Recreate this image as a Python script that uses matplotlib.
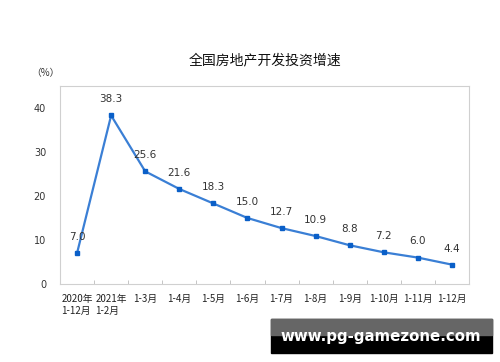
import matplotlib
matplotlib.use("Agg")
import matplotlib.pyplot as plt
from matplotlib.patches import Rectangle

plt.rcParams['font.family'] = ['Noto Sans CJK SC', 'DejaVu Sans']

categories = ["2020年\n1-12月", "2021年\n1-2月", "1-3月", "1-4月", "1-5月", "1-6月",
              "1-7月", "1-8月", "1-9月", "1-10月", "1-11月", "1-12月"]
values = [7.0, 38.3, 25.6, 21.6, 18.3, 15.0, 12.7, 10.9, 8.8, 7.2, 6.0, 4.4]
yticks = [0, 10, 20, 30, 40]

fig = plt.figure(figsize=(5.0, 3.62), dpi=100)
ax = fig.add_axes([60/500, 1-284/362, 409/500, (284-86)/362])

x = list(range(len(values)))
ax.plot(x, values, color='#3a7fd5', lw=1.6, marker='s', ms=3.2,
        mfc='#0a5fc8', mec='#0a5fc8', zorder=3)
for xi, v in zip(x, values):
    ax.annotate(f"{v:.1f}", (xi, v), xytext=(0, 8), textcoords='offset points',
                ha='center', va='bottom', fontsize=7.5, color='#333333',
                family=['DejaVu Sans'])

ax.set_xlim(-0.5, len(values) - 0.5)
ax.set_ylim(0, 45)
ax.set_yticks(yticks)
ax.set_yticklabels([str(t) for t in yticks], fontsize=7, color='#333333',
                   family=['DejaVu Sans'])
ax.tick_params(axis='y', length=0, pad=10)
ax.set_xticks(x)
ax.set_xticklabels(categories, fontsize=7, color='#222222', linespacing=1.3)
ax.tick_params(axis='x', length=0, pad=7)
for lbl in ax.get_xticklabels():
    lbl.set_multialignment('left')
ax.set_xticks([i + 0.5 for i in range(-1, len(values))], minor=True)
ax.tick_params(axis='x', which='minor', direction='in', length=3, color='#bbbbbb')
for s in ax.spines.values():
    s.set_color('#d0d0d0')
    s.set_linewidth(0.8)

fig.text(265/500, 1-60/362, "全国房地产开发投资增速", ha='center', va='center',
         fontsize=10, color='#111111')
fig.text(45/500, 1-73/362, "（%）", ha='center', va='center', fontsize=7, color='#333333')

# watermark
fig.patches.append(Rectangle((271/500, 1-353/362), 221/500, 34/362,
                             transform=fig.transFigure, color='black', zorder=5))
fig.patches.append(Rectangle((271/500, 1-335/362), 221/500, 16/362,
                             transform=fig.transFigure, color='#666666', zorder=6))
fig.text(381/500, 1-337/362, "www.pg-gamezone.com", ha='center', va='center',
         fontsize=10.8, color='white', weight='bold', family=['DejaVu Sans'], zorder=7)

fig.savefig("out.png", dpi=100)
